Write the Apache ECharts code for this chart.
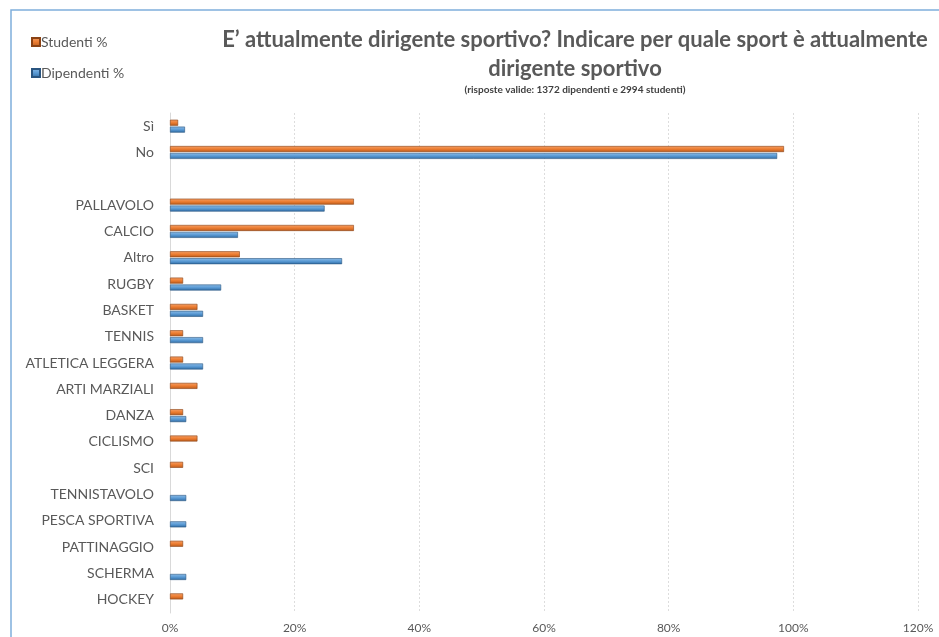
<!DOCTYPE html>
<html><head><meta charset="utf-8">
<script src="https://cdn.jsdelivr.net/npm/echarts@6/dist/echarts.min.js"></script>
<style>html,body{margin:0;padding:0;background:#fff}#c{width:939px;height:637px}</style>
</head><body><div id="c"></div>
<script>
const categories = ['Sì','No','','PALLAVOLO','CALCIO','Altro','RUGBY','BASKET','TENNIS','ATLETICA LEGGERA','ARTI MARZIALI','DANZA','CICLISMO','SCI','TENNISTAVOLO','PESCA SPORTIVA','PATTINAGGIO','SCHERMA','HOCKEY'];
const studenti   = [1.3, 98.5, null, 29.5, 29.5, 11.2, 2.1, 4.4, 2.1, 2.1, 4.4, 2.1, 4.4, 2.1, null, null, 2.1, null, 2.1];
const dipendenti = [2.4, 97.4, null, 24.8, 10.9, 27.6, 8.2, 5.3, 5.3, 5.3, null, 2.6, null, null, 2.6, 2.6, null, 2.6, null];
const xTicks = [0, 20, 40, 60, 80, 100, 120];

const chart = echarts.init(document.getElementById('c'));
const font = 'Lato, "Open Sans", sans-serif';
chart.setOption({
  animation: false,
  textStyle: {fontFamily: font},
  graphic: [{type:'rect', shape:{x:11, y:10, width:960, height:660}, style:{fill:'none', stroke:'#7FAEDB', lineWidth:1.5}}],
  title: {
    text: 'E’ attualmente dirigente sportivo? Indicare per quale sport è attualmente\ndirigente sportivo',
    subtext: '(risposte valide: 1372 dipendenti e 2994 studenti)',
    left: 570, top: 20, textAlign: 'center', itemGap: 2,
    textStyle: {fontSize: 22, fontWeight: 'bold', color: '#595959', lineHeight: 29, fontFamily: font},
    subtextStyle: {fontSize: 10, fontWeight: 'bold', color: '#404040', fontFamily: font}
  },
  legend: {
    orient: 'vertical', left: 26, top: 30, itemWidth: 8, itemHeight: 8, itemGap: 17,
    icon: 'rect',
    textStyle: {fontSize: 14, color: '#595959', fontFamily: font, padding:[0,0,0,-4]},
    data: ['Studenti %', 'Dipendenti %']
  },
  grid: {left: 170, right: 21, top: 113, bottom: 24, containLabel: false},
  xAxis: {
    type: 'value', min: 0, max: 120, interval: 20,
    axisLabel: {formatter: v => v + '%', fontSize: 12, color: '#595959', margin: 9},
    axisLine: {show: false}, axisTick: {show: false},
    splitLine: {lineStyle: {color: '#DDDDDD', type: [2, 2], width: 1}}
  },
  yAxis: {
    type: 'category', data: categories, inverse: true,
    axisLabel: {fontSize: 14, color: '#595959', margin: 16},
    axisLine: {lineStyle: {color: '#D9D9D9'}}, axisTick: {show: false}
  },
  series: [
    {name: 'Studenti %', type: 'bar', data: studenti, barWidth: 6, barGap: '15%',
     itemStyle: {color: {type:'linear',x:0,y:0,x2:0,y2:1,colorStops:[{offset:0,color:'#F4A068'},{offset:0.5,color:'#ED7D31'},{offset:1,color:'#B85A1C'}]}, borderColor: '#8A4214', borderWidth: 0.6}},
    {name: 'Dipendenti %', type: 'bar', data: dipendenti, barWidth: 6,
     itemStyle: {color: {type:'linear',x:0,y:0,x2:0,y2:1,colorStops:[{offset:0,color:'#8CBBE6'},{offset:0.5,color:'#5B9BD5'},{offset:1,color:'#2F6BA3'}]}, borderColor: '#2A5580', borderWidth: 0.6}}
  ]
});
</script></body></html>
